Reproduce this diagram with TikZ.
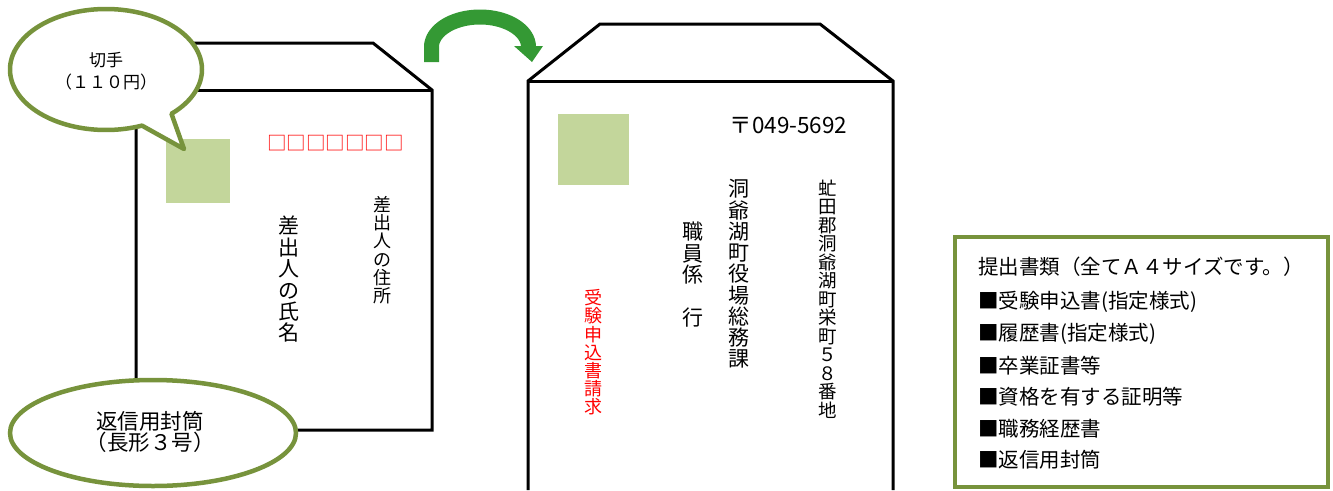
\documentclass[tikz,border=0pt]{standalone}
\usepackage{fontspec}
\setmainfont{Noto Sans CJK JP}
\definecolor{olivegr}{RGB}{119,147,60}
\definecolor{stampc}{RGB}{195,214,155}
\definecolor{arrowg}{RGB}{52,153,52}
\tikzset{
  env/.style={draw=black, line width=3pt, line join=miter},
  stampbox/.style={fill=stampc},
  vt/.style={align=center, inner sep=0pt},
  lst/.style={anchor=west, inner sep=0pt, font=\fontsize{20.5}{22}\selectfont},
  olv/.style={draw=olivegr, line width=4.5pt, fill=white}
}
\begin{document}
\begin{tikzpicture}[x=1pt,y=-1pt]
\useasboundingbox (0,0) rectangle (1333,490);
% left envelope
\draw[env] (136,430) -- (136,90) -- (195,43) -- (373,43) -- (432,90) -- (432,430) -- cycle;
\draw[env] (136,90) -- (432,90);
\fill[stampbox] (166,139) rectangle (230,203);
\node[inner sep=0pt, text=red, font=\fontsize{19.5}{20}\selectfont] (zip) at (335.5,143) {□□□□□□□};
\node[vt, font=\fontsize{18}{18.3}\selectfont] (saddr) at (382,250) {差\\出\\人\\の\\住\\所};
\node[vt, font=\fontsize{21}{21.4}\selectfont] (sname) at (289,279.5) {差\\出\\人\\の\\氏\\名};
% bubble
\draw[olv, line join=round] plot[variable=\t, domain=68:407, samples=160] ({106+96*cos(\t)},{69.5+60.5*sin(\t)}) -- (184,149) -- cycle;
\node[vt, font=\fontsize{17}{22}\selectfont] (stamplbl) at (106,71) {切手\\（１１０円）};
% bottom ellipse
\draw[olv] (153,433) ellipse [x radius=143pt, y radius=53pt];
\node[vt, font=\fontsize{21.5}{21.5}\selectfont] (retlbl) at (150,432) {返信用封筒\\（長形３号）};
% green arrow
\draw[arrowg, line width=15pt] (431.5,62) -- (431.5,47) plot[variable=\t, domain=180:360, samples=80] ({480+48.5*cos(\t)},{47+30*sin(\t)});
\fill[arrowg] (514,46) -- (543,46) -- (532,62) -- cycle;
% right envelope
\draw[env] (528,490) -- (528,81) -- (600,24) -- (820,24) -- (893,81) -- (893,490);
\draw[env] (528,81) -- (893,81);
\fill[stampbox] (558,114) rectangle (629,185);
\node[inner sep=0pt, font=\fontsize{22.5}{24}\selectfont] (code) at (788.5,125) {〒049-5692};
\node[vt, font=\fontsize{18.5}{18.5}\selectfont] (addr) at (828,299) {虻\\田\\郡\\洞\\爺\\湖\\町\\栄\\町\\５\\８\\番\\地};
\node[vt, font=\fontsize{21}{21.25}\selectfont] (office) at (739,274) {洞\\爺\\湖\\町\\役\\場\\総\\務\\課};
\node[vt, font=\fontsize{21}{21.5}\selectfont] (dept) at (693,275) {職\\員\\係\\　\\行};
\node[vt, text=red, font=\fontsize{18}{18.2}\selectfont] (req) at (593,352.5) {受\\験\\申\\込\\書\\請\\求};
% list box
\draw[draw=olivegr, line width=4pt] (955,237) rectangle (1328,487);
\node[lst] (l0) at (978,267) {提出書類（全てＡ４サイズです。）};
\node[lst] (l1) at (978,302) {■受験申込書(指定様式)};
\node[lst] (l2) at (978,334) {■履歴書(指定様式)};
\node[lst] (l3) at (978,366) {■卒業証書等};
\node[lst] (l4) at (978,397) {■資格を有する証明等};
\node[lst] (l5) at (978,429) {■職務経歴書};
\node[lst] (l6) at (978,460) {■返信用封筒};
\end{tikzpicture}
\end{document}
